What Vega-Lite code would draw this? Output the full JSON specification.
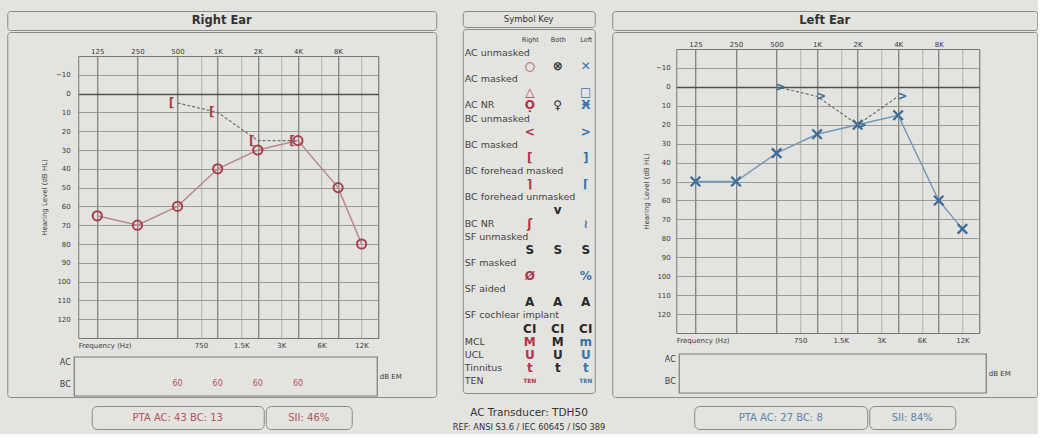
{
  "$schema": "https://vega.github.io/schema/vega-lite/v6.json",
  "background": "#e3e3df",
  "padding": {"left": 6, "top": 10, "right": 0, "bottom": 0},
  "config": {
    "view": {"stroke": null},
    "font": "DejaVu Sans",
    "axis": {"labelFont": "DejaVu Sans", "titleFont": "DejaVu Sans", "labelColor": "#3a3a3a", "titleColor": "#3a3a3a", "labelFontSize": 7, "titleFontSize": 7, "titleFontWeight": "normal", "ticks": false, "domainColor": "#777777", "gridOpacity": 1, "labelOverlap": false, "labelFlush": false}
  },
  "spacing": 2,
  "hconcat": [
    {
      "spacing": 12,
      "hconcat": [
        {
          "spacing": 7, "center": true,
          "vconcat": [
            {
              "spacing": 0,
              "vconcat": [
                {"width": 429, "height": 19, "view": {"stroke": "#8a8a8a", "cornerRadius": 3},
                 "data": {"values": [{"panel": "Right Ear"}]},
                 "mark": {"type": "text", "fontSize": 11.5, "fontWeight": "bold", "color": "#333333"},
                 "encoding": {"text": {"field": "panel"}}},
                {"width": 429, "height": 365, "view": {"stroke": "#8a8a8a", "cornerRadius": 3},
                 "resolve": {"scale": {"x": "independent", "y": "independent"}, "axis": {"x": "independent", "y": "independent"}},
                 "layer": [
                   {
                     "resolve": {"axis": {"x": "independent", "y": "independent"}},
                     "layer": [
                       {"data": {"values": [{"freq":125,"db":65},{"freq":250,"db":70},{"freq":500,"db":60},{"freq":1000,"db":40},{"freq":2000,"db":30},{"freq":4000,"db":25},{"freq":8000,"db":50},{"freq":12000,"db":80}]},
                        "mark": {"type": "line", "color": "#b98a8c", "strokeWidth": 1.5},
                        "encoding": {
                          "x": {"field": "freq", "type": "quantitative", "scale": {"type": "log", "domain": [90, 16000], "range": [71, 371], "nice": false},
                                "axis": {"orient": "top", "offset": -24, "values": [125,250,500,750,1000,1500,2000,3000,4000,6000,8000,12000,16000], "labelExpr": "indexof([125,250,500,1000,2000,4000,8000], datum.value) < 0 ? '' : datum.value >= 1000 ? (datum.value / 1000) + 'K' : '' + datum.value", "labelPadding": 2, "grid": true, "gridColor": {"condition": {"test": "indexof([125,250,500,1000,2000,4000,8000,16000], datum.value) >= 0", "value": "#6e6e6e"}, "value": "#a3a3a3"}, "gridWidth": {"condition": {"test": "indexof([125,250,500,1000,2000,4000,8000,16000], datum.value) >= 0", "value": 1.1}, "value": 0.8}, "domain": true, "title": null}},
                          "y": {"field": "db", "type": "quantitative", "scale": {"type": "linear", "domain": [-20, 130], "range": [24, 306], "nice": false, "zero": false},
                                "axis": {"orient": "left", "offset": -71, "values": [-10,0,10,20,30,40,50,60,70,80,90,100,110,120], "labelPadding": 8, "grid": true, "gridColor": {"condition": {"test": "datum.value === 0", "value": "#505050"}, "value": "#929292"}, "gridWidth": {"condition": {"test": "datum.value === 0", "value": 1.6}, "value": 0.9}, "title": "Hearing Level (dB HL)", "titlePadding": 8}}
                        }},
                       {"data": {"values": [{"freq":125,"db":65},{"freq":250,"db":70},{"freq":500,"db":60},{"freq":1000,"db":40},{"freq":2000,"db":30},{"freq":4000,"db":25},{"freq":8000,"db":50},{"freq":12000,"db":80}]},
                        "mark": {"type": "point", "shape": "circle", "size": 85, "filled": false, "stroke": "#a8404c", "strokeWidth": 2, "opacity": 1},
                        "encoding": {
                          "x": {"field": "freq", "type": "quantitative", "scale": {"type": "log", "domain": [90, 16000], "range": [71, 371], "nice": false}, "axis": null},
                          "y": {"field": "db", "type": "quantitative", "scale": {"type": "linear", "domain": [-20, 130], "range": [24, 306], "nice": false, "zero": false}, "axis": null}
                        }},
                       {"data": {"values": [{"freq":500,"db":5},{"freq":1000,"db":10},{"freq":2000,"db":25},{"freq":4000,"db":25}]},
                        "mark": {"type": "line", "color": "#707070", "strokeDash": [3, 2], "strokeWidth": 1.2},
                        "encoding": {
                          "x": {"field": "freq", "type": "quantitative", "scale": {"type": "log", "domain": [90, 16000], "range": [71, 371], "nice": false},
                                "axis": {"orient": "bottom", "offset": -59, "values": [750,1500,3000,6000,12000], "labelExpr": "datum.value >= 1000 ? (datum.value / 1000) + 'K' : '' + datum.value", "labelPadding": 3, "grid": false, "domain": true, "title": "Frequency (Hz)", "titleAnchor": "start", "titleAlign": "left", "titleBaseline": "top", "titleY": 3, "titlePadding": 0}},
                          "y": {"field": "db", "type": "quantitative", "scale": {"type": "linear", "domain": [-20, 130], "range": [24, 306], "nice": false, "zero": false}, "axis": null}
                        }},
                       {"data": {"values": [{"freq":500,"db":5},{"freq":1000,"db":10},{"freq":2000,"db":25},{"freq":4000,"db":25}]},
                        "mark": {"type": "text", "text": "[", "fontSize": 12, "fontWeight": "bold", "color": "#a8404c", "dx": -6, "baseline": "middle"},
                        "encoding": {
                          "x": {"field": "freq", "type": "quantitative", "scale": {"type": "log", "domain": [90, 16000], "range": [71, 371], "nice": false}, "axis": null},
                          "y": {"field": "db", "type": "quantitative", "scale": {"type": "linear", "domain": [-20, 130], "range": [24, 306], "nice": false, "zero": false}, "axis": null}
                        }}
                     ]
                   },
                   {"data": {"values": [{"freq":500,"row":"BC","level":60},{"freq":1000,"row":"BC","level":60},{"freq":2000,"row":"BC","level":60},{"freq":4000,"row":"BC","level":60}]},
                    "mark": {"type": "text", "fontSize": 8, "color": "#b3545d"},
                    "encoding": {
                      "x": {"field": "freq", "type": "quantitative", "scale": {"type": "log", "domain": [90, 16000], "range": [71, 371], "nice": false}, "axis": null},
                      "y": {"field": "row", "type": "nominal", "scale": {"type": "point", "domain": ["AC", "BC"], "range": [330, 352], "padding": 0}, "axis": {"orient": "left", "offset": -67, "labelPadding": 4, "labelFontSize": 8, "domain": false, "grid": false, "title": null}},
                      "text": {"field": "level", "type": "quantitative"}
                    }},
                   {"data": {"values": [{"box": "masking"}]},
                    "mark": {"type": "rect", "fill": "transparent", "stroke": "#7c7c7c", "strokeWidth": 1.2},
                    "encoding": {
                      "x": {"datum": 0, "type": "quantitative", "scale": {"domain": [0, 1], "range": [67, 370], "nice": false, "zero": false}, "axis": null},
                      "x2": {"datum": 1},
                      "y": {"datum": 0, "type": "quantitative", "scale": {"domain": [0, 1], "range": [325, 364], "nice": false, "zero": false}, "axis": {"orient": "right", "offset": -59, "labels": false, "domain": false, "grid": false, "title": "dB EM", "titleAngle": 0, "titleAlign": "left", "titleBaseline": "middle", "titlePadding": 2, "titleFontSize": 7}},
                      "y2": {"datum": 1}
                    }}
                 ]}
              ]
            },
            {
              "spacing": 0,
              "hconcat": [
                {"width": 172, "height": 23, "view": {"stroke": "#8a8a8a", "cornerRadius": 5},
                 "data": {"values": [{"label": "PTA  AC: 43  BC: 13"}]},
                 "mark": {"type": "text", "fontSize": 10, "color": "#b3545d"},
                 "encoding": {"text": {"field": "label"}}},
                {"width": 86, "height": 23, "view": {"stroke": "#8a8a8a", "cornerRadius": 5},
                 "data": {"values": [{"label": "SII: 46%"}]},
                 "mark": {"type": "text", "fontSize": 10, "color": "#b3545d"},
                 "encoding": {"text": {"field": "label"}}}
              ]
            }
          ]
        },
        {
          "spacing": 0, "center": true,
          "vconcat": [
            {"width": 132, "height": 16, "view": {"stroke": "#8a8a8a", "cornerRadius": 3},
             "data": {"values": [{"panel": "Symbol Key"}]},
             "mark": {"type": "text", "fontSize": 8.5, "color": "#333333"},
             "encoding": {"text": {"field": "panel"}}},
            {"width": 132, "height": 364, "view": {"stroke": "#8a8a8a", "cornerRadius": 3},
             "resolve": {"scale": {"x": "independent"}, "axis": {"x": "independent"}},
             "layer": [
               {"data": {"values": [{"line":"AC unmasked"},{"line":"AC masked"},{"line":"AC NR"},{"line":"BC unmasked"},{"line":"BC masked"},{"line":"BC forehead masked"},{"line":"BC forehead unmasked"},{"line":"BC NR"},{"line":"SF unmasked"},{"line":"SF masked"},{"line":"SF aided"},{"line":"SF cochlear implant"},{"line":"MCL"},{"line":"UCL"},{"line":"Tinnitus"},{"line":"TEN"}]},
                "mark": {"type": "text", "align": "left", "baseline": "middle", "fontSize": 9.5, "color": "#444444"},
                "encoding": {
                  "x": {"datum": "Description", "type": "nominal", "scale": {"type": "point", "domain": ["Description"], "range": [2, 2], "padding": 0}, "axis": null},
                  "y": {"field": "line", "type": "nominal", "scale": {"type": "point", "domain": ["AC unmasked","AC unmasked:sym","AC masked","AC masked:sym","AC NR","BC unmasked","BC unmasked:sym","BC masked","BC masked:sym","BC forehead masked","BC forehead masked:sym","BC forehead unmasked","BC forehead unmasked:sym","BC NR","SF unmasked","SF unmasked:sym","SF masked","SF masked:sym","SF aided","SF aided:sym","SF cochlear implant","SF cochlear implant:sym","MCL","UCL","Tinnitus","TEN"], "range": [24, 352], "padding": 0}, "axis": null},
                  "text": {"field": "line"}
                }},
               {"data": {"name": "keySymbols"},
                "transform": [{"filter": "datum.symbol !== 'TEN'"}],
                "mark": {"type": "text", "baseline": "middle", "fontSize": 12, "fontWeight": "bold"},
                "encoding": {
                  "x": {"field": "ear", "type": "nominal", "scale": {"type": "point", "domain": ["Right", "Both", "Left"], "range": [67, 123], "padding": 0}, "axis": {"orient": "top", "offset": -14, "labelPadding": 1, "labelFontSize": 6.5, "labelAngle": 0, "domain": false, "grid": false, "title": null}},
                  "y": {"field": "line", "type": "nominal", "scale": {"type": "point", "domain": ["AC unmasked","AC unmasked:sym","AC masked","AC masked:sym","AC NR","BC unmasked","BC unmasked:sym","BC masked","BC masked:sym","BC forehead masked","BC forehead masked:sym","BC forehead unmasked","BC forehead unmasked:sym","BC NR","SF unmasked","SF unmasked:sym","SF masked","SF masked:sym","SF aided","SF aided:sym","SF cochlear implant","SF cochlear implant:sym","MCL","UCL","Tinnitus","TEN"], "range": [24, 352], "padding": 0}, "axis": null},
                  "text": {"field": "symbol"},
                  "color": {"field": "group", "type": "nominal", "scale": {"domain": ["Right", "Both", "Left", "Sound field"], "range": ["#b0354a", "#2a2a2a", "#3b74a8", "#2a2a2a"]}, "legend": null}
                }},
               {"data": {"name": "keySymbols"},
                "transform": [{"filter": "datum.symbol === 'TEN'"}],
                "mark": {"type": "text", "baseline": "middle", "fontSize": 6, "fontWeight": "bold"},
                "encoding": {
                  "x": {"field": "ear", "type": "nominal", "scale": {"type": "point", "domain": ["Right", "Both", "Left"], "range": [67, 123], "padding": 0}, "axis": null},
                  "y": {"field": "line", "type": "nominal", "axis": null},
                  "text": {"field": "symbol"},
                  "color": {"field": "group", "type": "nominal", "legend": null}
                }}
             ]},
            {"width": 160, "height": 40,
             "data": {"values": [{"line": "transducer", "text": "AC Transducer:  TDH50"}, {"line": "reference", "text": "REF: ANSI S3.6 / IEC 60645 / ISO 389"}]},
             "mark": {"type": "text", "color": "#333333", "baseline": "middle"},
             "encoding": {
               "y": {"field": "line", "type": "nominal", "scale": {"type": "point", "domain": ["transducer", "reference"], "range": [19, 34], "padding": 0}, "axis": null},
               "text": {"field": "text"},
               "size": {"condition": {"test": "datum.line === 'reference'", "value": 8.3}, "value": 10.5}
             }}
          ]
        }
      ]
    },
    {
      "spacing": 7, "center": true,
      "vconcat": [
        {
          "spacing": 0,
          "vconcat": [
            {"width": 425, "height": 19, "view": {"stroke": "#8a8a8a", "cornerRadius": 3},
             "data": {"values": [{"panel": "Left Ear"}]},
             "mark": {"type": "text", "fontSize": 11.5, "fontWeight": "bold", "color": "#333333"},
             "encoding": {"text": {"field": "panel"}}},
            {"width": 425, "height": 365, "view": {"stroke": "#8a8a8a", "cornerRadius": 3},
             "resolve": {"scale": {"x": "independent", "y": "independent"}, "axis": {"x": "independent", "y": "independent"}},
             "layer": [
               {
                 "resolve": {"axis": {"x": "independent", "y": "independent"}},
                 "layer": [
                   {"data": {"values": [{"freq":125,"db":50},{"freq":250,"db":50},{"freq":500,"db":35},{"freq":1000,"db":25},{"freq":2000,"db":20},{"freq":4000,"db":15},{"freq":8000,"db":60},{"freq":12000,"db":75}]},
                    "mark": {"type": "line", "color": "#7598b8", "strokeWidth": 1.5},
                    "encoding": {
                      "x": {"field": "freq", "type": "quantitative", "scale": {"type": "log", "domain": [90, 16000], "range": [64, 367], "nice": false},
                            "axis": {"orient": "top", "offset": -17, "values": [125,250,500,750,1000,1500,2000,3000,4000,6000,8000,12000,16000], "labelExpr": "indexof([125,250,500,1000,2000,4000,8000], datum.value) < 0 ? '' : datum.value >= 1000 ? (datum.value / 1000) + 'K' : '' + datum.value", "labelPadding": 2, "grid": true, "gridColor": {"condition": {"test": "indexof([125,250,500,1000,2000,4000,8000,16000], datum.value) >= 0", "value": "#6e6e6e"}, "value": "#a3a3a3"}, "gridWidth": {"condition": {"test": "indexof([125,250,500,1000,2000,4000,8000,16000], datum.value) >= 0", "value": 1.1}, "value": 0.8}, "domain": true, "title": null}},
                      "y": {"field": "db", "type": "quantitative", "scale": {"type": "linear", "domain": [-20, 130], "range": [17, 301], "nice": false, "zero": false},
                            "axis": {"orient": "left", "offset": -64, "values": [-10,0,10,20,30,40,50,60,70,80,90,100,110,120], "labelPadding": 6, "grid": true, "gridColor": {"condition": {"test": "datum.value === 0", "value": "#505050"}, "value": "#929292"}, "gridWidth": {"condition": {"test": "datum.value === 0", "value": 1.6}, "value": 0.9}, "title": "Hearing Level (dB HL)", "titlePadding": 6}}
                    }},
                   {"data": {"values": [{"freq":125,"db":50},{"freq":250,"db":50},{"freq":500,"db":35},{"freq":1000,"db":25},{"freq":2000,"db":20},{"freq":4000,"db":15},{"freq":8000,"db":60},{"freq":12000,"db":75}]},
                    "mark": {"type": "point", "shape": "M-1,-1L1,1M-1,1L1,-1", "size": 90, "filled": false, "stroke": "#3a6d98", "strokeWidth": 2.3, "opacity": 1},
                    "encoding": {
                      "x": {"field": "freq", "type": "quantitative", "scale": {"type": "log", "domain": [90, 16000], "range": [64, 367], "nice": false}, "axis": null},
                      "y": {"field": "db", "type": "quantitative", "scale": {"type": "linear", "domain": [-20, 130], "range": [17, 301], "nice": false, "zero": false}, "axis": null}
                    }},
                   {"data": {"values": [{"freq":500,"db":0},{"freq":1000,"db":5},{"freq":2000,"db":20},{"freq":4000,"db":5}]},
                    "mark": {"type": "line", "color": "#707070", "strokeDash": [3, 2], "strokeWidth": 1.2},
                    "encoding": {
                      "x": {"field": "freq", "type": "quantitative", "scale": {"type": "log", "domain": [90, 16000], "range": [64, 367], "nice": false},
                            "axis": {"orient": "bottom", "offset": -64, "values": [750,1500,3000,6000,12000], "labelExpr": "datum.value >= 1000 ? (datum.value / 1000) + 'K' : '' + datum.value", "labelPadding": 3, "grid": false, "domain": true, "title": "Frequency (Hz)", "titleAnchor": "start", "titleAlign": "left", "titleBaseline": "top", "titleY": 3, "titlePadding": 0}},
                      "y": {"field": "db", "type": "quantitative", "scale": {"type": "linear", "domain": [-20, 130], "range": [17, 301], "nice": false, "zero": false}, "axis": null}
                    }},
                   {"data": {"values": [{"freq":500,"db":0},{"freq":1000,"db":5},{"freq":2000,"db":20},{"freq":4000,"db":5}]},
                    "mark": {"type": "text", "text": ">", "fontSize": 12, "fontWeight": "bold", "color": "#3a6d98", "dx": 4, "baseline": "middle"},
                    "encoding": {
                      "x": {"field": "freq", "type": "quantitative", "scale": {"type": "log", "domain": [90, 16000], "range": [64, 367], "nice": false}, "axis": null},
                      "y": {"field": "db", "type": "quantitative", "scale": {"type": "linear", "domain": [-20, 130], "range": [17, 301], "nice": false, "zero": false}, "axis": null}
                    }}
                 ]
               },
               {"data": {"values": []},
                "mark": {"type": "text", "fontSize": 8, "color": "#4f7ea3"},
                "encoding": {
                  "x": {"field": "freq", "type": "quantitative", "scale": {"type": "log", "domain": [90, 16000], "range": [64, 367], "nice": false}, "axis": null},
                  "y": {"field": "row", "type": "nominal", "scale": {"type": "point", "domain": ["AC", "BC"], "range": [327, 349], "padding": 0}, "axis": {"orient": "left", "offset": -67, "labelPadding": 4, "labelFontSize": 8, "domain": false, "grid": false, "title": null}},
                  "text": {"field": "level", "type": "quantitative"}
                }},
               {"data": {"values": [{"box": "masking"}]},
                "mark": {"type": "rect", "fill": "transparent", "stroke": "#7c7c7c", "strokeWidth": 1.2},
                "encoding": {
                  "x": {"datum": 0, "type": "quantitative", "scale": {"domain": [0, 1], "range": [67, 374], "nice": false, "zero": false}, "axis": null},
                  "x2": {"datum": 1},
                  "y": {"datum": 0, "type": "quantitative", "scale": {"domain": [0, 1], "range": [322, 361], "nice": false, "zero": false}, "axis": {"orient": "right", "offset": -51, "labels": false, "domain": false, "grid": false, "title": "dB EM", "titleAngle": 0, "titleAlign": "left", "titleBaseline": "middle", "titlePadding": 2, "titleFontSize": 7}},
                  "y2": {"datum": 1}
                }}
             ]}
          ]
        },
        {
          "spacing": 0,
          "hconcat": [
            {"width": 173, "height": 23, "view": {"stroke": "#8a8a8a", "cornerRadius": 5},
             "data": {"values": [{"label": "PTA  AC: 27  BC: 8"}]},
             "mark": {"type": "text", "fontSize": 10, "color": "#5a86aa"},
             "encoding": {"text": {"field": "label"}}},
            {"width": 86, "height": 23, "view": {"stroke": "#8a8a8a", "cornerRadius": 5},
             "data": {"values": [{"label": "SII: 84%"}]},
             "mark": {"type": "text", "fontSize": 10, "color": "#5a86aa"},
             "encoding": {"text": {"field": "label"}}}
          ]
        }
      ]
    }
  ],
  "datasets": {
    "keySymbols": [
      {"line":"AC unmasked:sym","ear":"Right","group":"Right","symbol":"○"},
      {"line":"AC unmasked:sym","ear":"Both","group":"Both","symbol":"⊗"},
      {"line":"AC unmasked:sym","ear":"Left","group":"Left","symbol":"✕"},
      {"line":"AC masked:sym","ear":"Right","group":"Right","symbol":"△"},
      {"line":"AC masked:sym","ear":"Left","group":"Left","symbol":"□"},
      {"line":"AC NR","ear":"Right","group":"Right","symbol":"Ọ"},
      {"line":"AC NR","ear":"Both","group":"Both","symbol":"♀"},
      {"line":"AC NR","ear":"Left","group":"Left","symbol":"Ӿ"},
      {"line":"BC unmasked:sym","ear":"Right","group":"Right","symbol":"<"},
      {"line":"BC unmasked:sym","ear":"Left","group":"Left","symbol":">"},
      {"line":"BC masked:sym","ear":"Right","group":"Right","symbol":"["},
      {"line":"BC masked:sym","ear":"Left","group":"Left","symbol":"]"},
      {"line":"BC forehead masked:sym","ear":"Right","group":"Right","symbol":"⌉"},
      {"line":"BC forehead masked:sym","ear":"Left","group":"Left","symbol":"⌈"},
      {"line":"BC forehead unmasked:sym","ear":"Both","group":"Both","symbol":"v"},
      {"line":"BC NR","ear":"Right","group":"Right","symbol":"ʃ"},
      {"line":"BC NR","ear":"Left","group":"Left","symbol":"≀"},
      {"line":"SF unmasked:sym","ear":"Right","group":"Sound field","symbol":"S"},
      {"line":"SF unmasked:sym","ear":"Both","group":"Sound field","symbol":"S"},
      {"line":"SF unmasked:sym","ear":"Left","group":"Sound field","symbol":"S"},
      {"line":"SF masked:sym","ear":"Right","group":"Right","symbol":"Ø"},
      {"line":"SF masked:sym","ear":"Left","group":"Left","symbol":"%"},
      {"line":"SF aided:sym","ear":"Right","group":"Sound field","symbol":"A"},
      {"line":"SF aided:sym","ear":"Both","group":"Sound field","symbol":"A"},
      {"line":"SF aided:sym","ear":"Left","group":"Sound field","symbol":"A"},
      {"line":"SF cochlear implant:sym","ear":"Right","group":"Sound field","symbol":"CI"},
      {"line":"SF cochlear implant:sym","ear":"Both","group":"Sound field","symbol":"CI"},
      {"line":"SF cochlear implant:sym","ear":"Left","group":"Sound field","symbol":"CI"},
      {"line":"MCL","ear":"Right","group":"Right","symbol":"M"},
      {"line":"MCL","ear":"Both","group":"Both","symbol":"M"},
      {"line":"MCL","ear":"Left","group":"Left","symbol":"m"},
      {"line":"UCL","ear":"Right","group":"Right","symbol":"U"},
      {"line":"UCL","ear":"Both","group":"Both","symbol":"U"},
      {"line":"UCL","ear":"Left","group":"Left","symbol":"U"},
      {"line":"Tinnitus","ear":"Right","group":"Right","symbol":"t"},
      {"line":"Tinnitus","ear":"Both","group":"Both","symbol":"t"},
      {"line":"Tinnitus","ear":"Left","group":"Left","symbol":"t"},
      {"line":"TEN","ear":"Right","group":"Right","symbol":"TEN"},
      {"line":"TEN","ear":"Left","group":"Left","symbol":"TEN"}
    ]
  }
}
